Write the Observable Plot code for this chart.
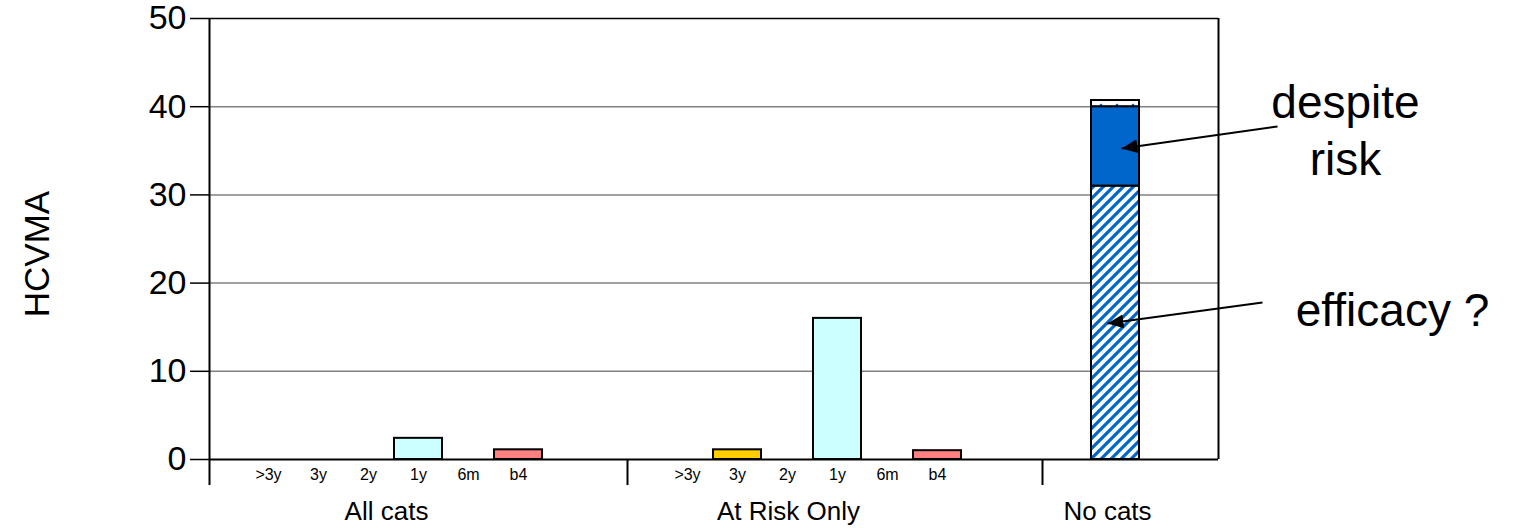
<!DOCTYPE html>
<html><head><meta charset="utf-8">
<script src="https://cdn.jsdelivr.net/npm/d3@7"></script>
<script src="https://cdn.jsdelivr.net/npm/@observablehq/plot@0.6"></script>
<style>html,body{margin:0;padding:0;background:#fff;overflow:hidden}</style>
</head><body><div id="chart"></div>
<script>
// ---- data ----
const groups = ["All cats", "At Risk Only", "No cats"];
const periods = [">3y", "3y", "2y", "1y", "6m", "b4"];
const allCatsValues = [0, 0, 0, 2.4, 0, 1.1];
const atRiskValues = [0, 1.1, 0, 16, 0, 1.0];
const noCatsParts = ["efficacy ?", "despite risk", "other"];
const noCatsValues = [31, 9, 0.7];
const yTicks = [0, 10, 20, 30, 40, 50];
const yLabel = "HCVMA";
const notes = ["despite\nrisk", "efficacy ?"];

// ---- layout (x in slot units) ----
const L = {
  xMax: 20.18,
  slotStart: [1.18, 9.56],
  noCatsX: 18.12,
  groupEdges: [8.36, 16.66],
  groupLabelX: [3.54, 11.58, 17.96],
  barW: 0.96,
  below: -2.95,
  noteX: [22.72, 23.66], noteY: [32.2, 15.19],
  arrows: [[21.36, 37.76, 18.24, 35.26], [21.06, 17.8, 17.96, 15.42]],
  yLabelPos: [-3.22, 23.3]
};
const periodFill = {">3y": "#CCFFFF", "3y": "#FFCC00", "2y": "#CCFFFF", "1y": "#CCFFFF", "6m": "#CCFFFF", "b4": "#FF8080"};
const partFill = ["url(#hatch)", "#0066CC", "url(#dots)"];

// ---- build tables ----
const bars = [];
[allCatsValues, atRiskValues].forEach((vals, g) => {
  vals.forEach((v, i) => {
    if (v > 0) bars.push({group: groups[g], period: periods[i], value: v, pos: L.slotStart[g] + i});
  });
});
const subLabels = [];
[0, 1].forEach(g => periods.forEach((p, i) => subLabels.push({text: p, pos: L.slotStart[g] + i})));
const cum = d3.cumsum(noCatsValues);
const stack = noCatsParts.map((p, i) => ({part: p, y1: i ? cum[i - 1] : 0, y2: cum[i], fill: partFill[i]}));
const groupLabels = groups.map((g, i) => ({text: g, pos: L.groupLabelX[i]}));
const noteRows = notes.map((t, i) => ({text: t, x: L.noteX[i], y: L.noteY[i]}));
const arrowRows = L.arrows.map(([x1, y1, x2, y2]) => ({x1, y1, x2, y2}));

const plot = Plot.plot({
  width: 1515, height: 528,
  marginLeft: 209, marginRight: 297, marginTop: 18, marginBottom: 69,
  x: {domain: [0, L.xMax], axis: null},
  y: {domain: [0, 50], axis: null},
  style: {fontFamily: "'Liberation Sans', Arial, sans-serif", background: "white", overflow: "visible", color: "black"},
  marks: [
    Plot.ruleY(yTicks.filter(t => t > 0 && t < 50), {stroke: "#808080", strokeWidth: 1.5}),
    Plot.ruleY([50], {stroke: "black", strokeWidth: 1.5}),
    Plot.rect(bars, {x1: d => d.pos - L.barW / 2, x2: d => d.pos + L.barW / 2, y1: 0, y2: "value",
      fill: d => periodFill[d.period], stroke: "black", strokeWidth: 2}),
    ...stack.map(s => Plot.rect([s], {x1: L.noCatsX - L.barW / 2, x2: L.noCatsX + L.barW / 2, y1: "y1", y2: "y2",
      fill: s.fill, stroke: "black", strokeWidth: 2})),
    Plot.ruleY([0], {stroke: "black", strokeWidth: 2}),
    Plot.ruleX([L.xMax], {y1: 0, y2: 50, stroke: "black", strokeWidth: 2}),
    Plot.ruleX([0], {y1: L.below, y2: 50, stroke: "black", strokeWidth: 2}),
    Plot.ruleX(L.groupEdges, {y1: 0, y2: L.below, stroke: "black", strokeWidth: 2}),
    Plot.axisY(yTicks, {tickSize: 19, tickPadding: 4, fontSize: 34, label: null, strokeWidth: 1.5}),
    Plot.text(subLabels, {x: "pos", y: 0, text: "text", dy: 20, lineAnchor: "bottom", fontSize: 16, fill: "black"}),
    Plot.text(groupLabels, {x: "pos", y: 0, text: "text", dy: 60, lineAnchor: "bottom", fontSize: 26, fill: "black"}),
    Plot.text([yLabel], {x: L.yLabelPos[0], y: L.yLabelPos[1], text: d => d, rotate: -90, lineAnchor: "bottom", fontSize: 35, fill: "black"}),
    Plot.text(noteRows, {x: "x", y: "y", text: "text", lineAnchor: "bottom", lineHeight: 1.26, fontSize: 46, fill: "black"}),
    Plot.link(arrowRows, {x1: "x1", y1: "y1", x2: "x2", y2: "y2", stroke: "black", strokeWidth: 2})
  ]
});

// patterns and arrowhead marker
const svg = d3.select(plot.tagName === "svg" ? plot : plot.querySelector("svg"));
const defs = svg.insert("defs", ":first-child");
const hatch = defs.append("pattern").attr("id", "hatch").attr("patternUnits", "userSpaceOnUse")
  .attr("width", 10).attr("height", 10);
hatch.append("rect").attr("width", 10).attr("height", 10).attr("fill", "white");
hatch.append("path").attr("d", "M-2.5,2.5 L2.5,-2.5 M0,10 L10,0 M7.5,12.5 L12.5,7.5")
  .attr("stroke", "#0066CC").attr("stroke-width", 3.2);
const dots = defs.append("pattern").attr("id", "dots").attr("patternUnits", "userSpaceOnUse")
  .attr("width", 16).attr("height", 6);
dots.append("rect").attr("width", 16).attr("height", 6).attr("fill", "white");
dots.append("circle").attr("cx", 13).attr("cy", 3).attr("r", 1.3).attr("fill", "#0066CC");
defs.append("marker").attr("id", "ahead").attr("markerUnits", "userSpaceOnUse")
  .attr("markerWidth", 18).attr("markerHeight", 16).attr("refX", 16).attr("refY", 7)
  .attr("orient", "auto").attr("viewBox", "0 0 18 16")
  .append("path").attr("d", "M0,0 L16,7 L0,14 Z").attr("fill", "black");
svg.selectAll('g[aria-label="link"] path').attr("marker-end", "url(#ahead)");

document.getElementById("chart").appendChild(plot);
</script>
</body></html>
